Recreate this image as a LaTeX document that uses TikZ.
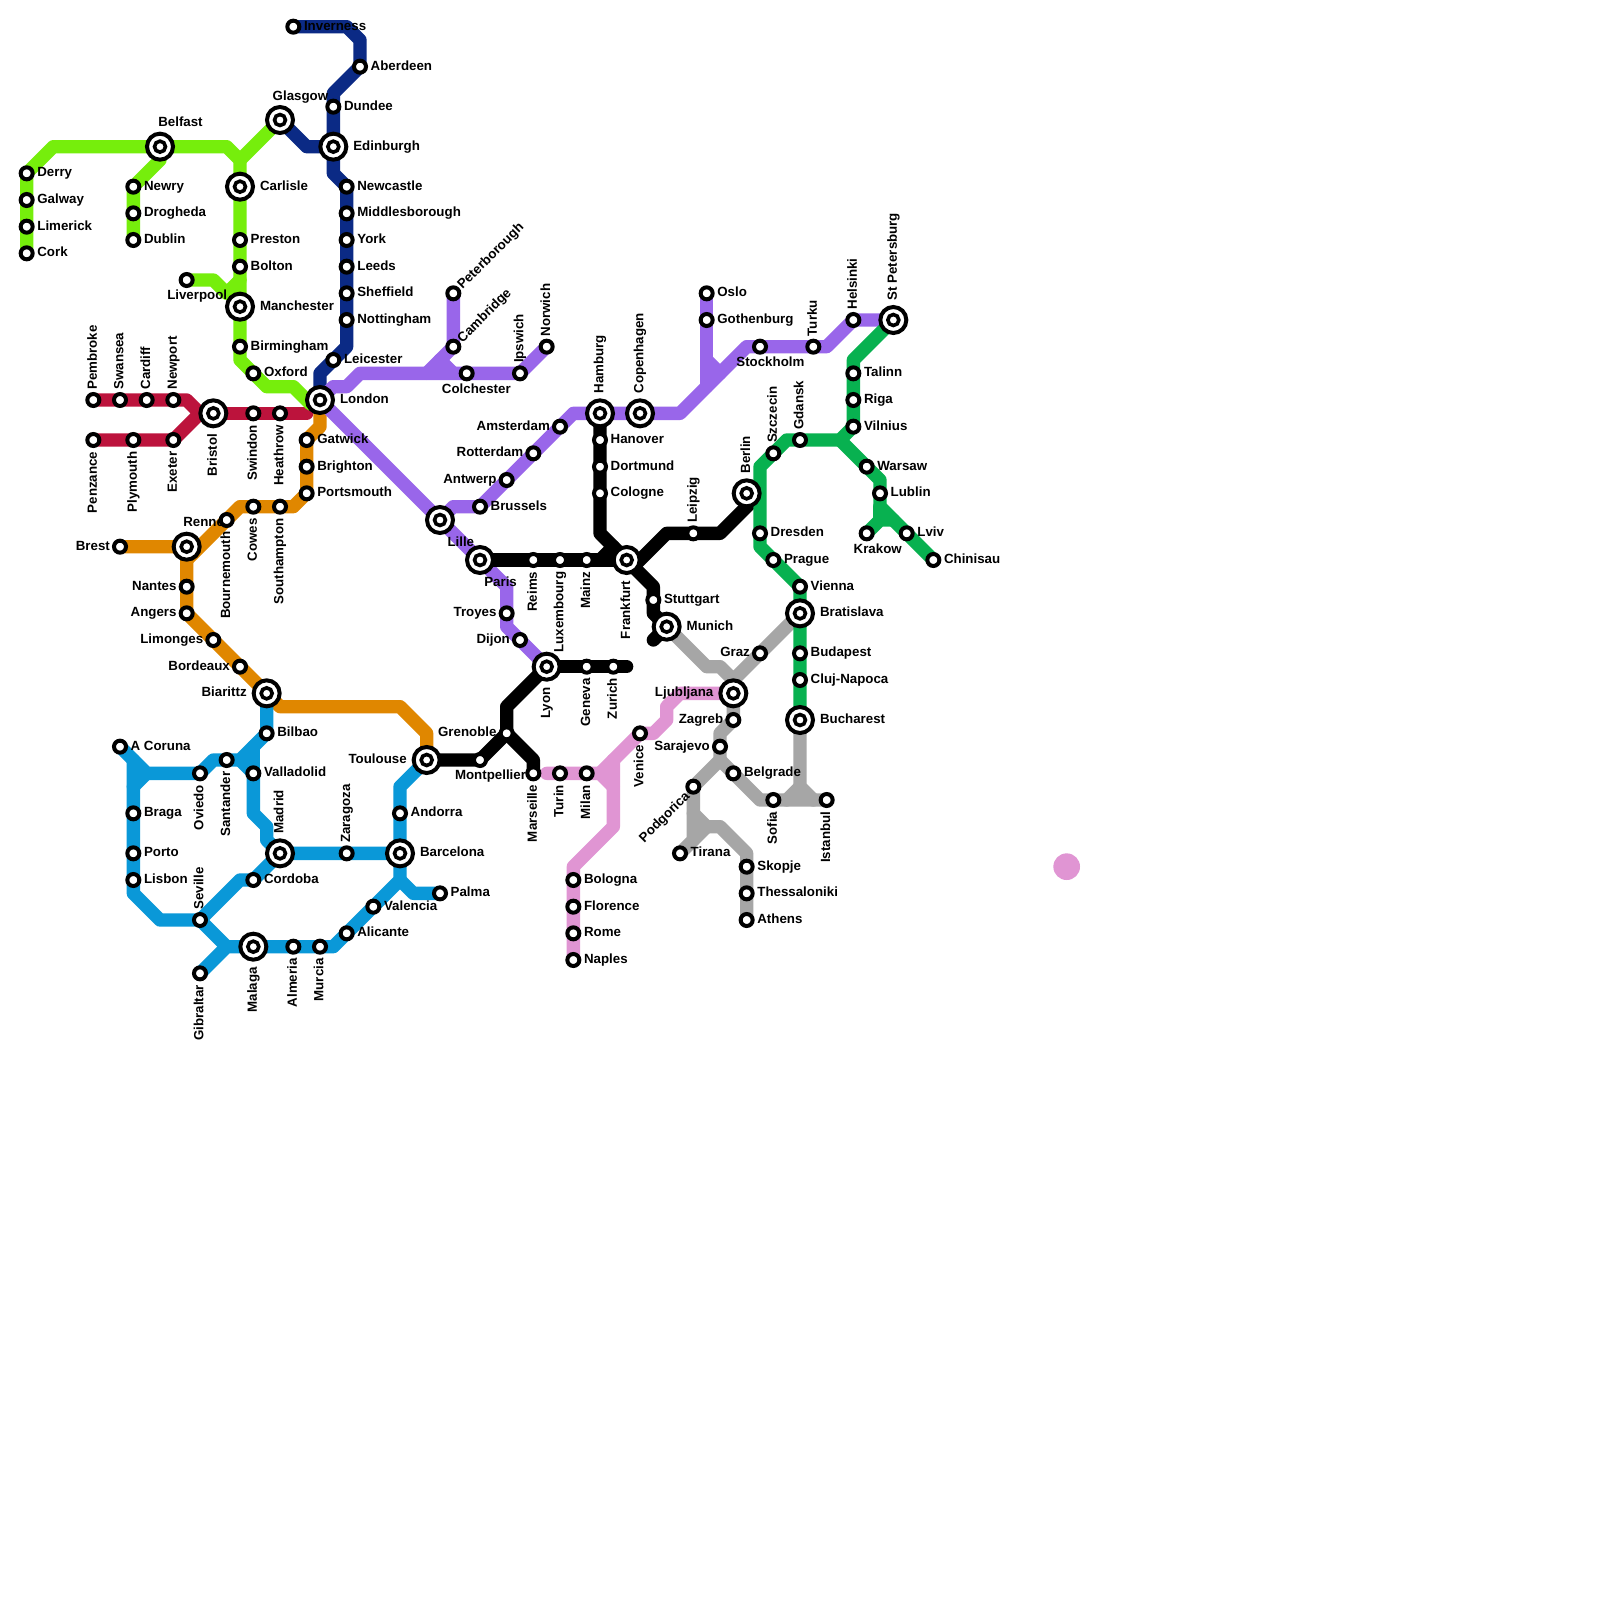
\documentclass[tikz,border=0pt]{standalone}
\usepackage{fontspec}
\setmainfont{Liberation Sans}
\pgfdeclarelayer{lines}
\pgfdeclarelayer{labels}
\pgfsetlayers{lines,labels,main}
\definecolor{cGreen}{HTML}{76EE0C}
\definecolor{cNavy}{HTML}{0B2A85}
\definecolor{cRed}{HTML}{BC133C}
\definecolor{cPurple}{HTML}{9966EA}
\definecolor{cOrange}{HTML}{E08700}
\definecolor{cBlue}{HTML}{0A98D8}
\definecolor{cPink}{HTML}{E095D3}
\definecolor{cGray}{HTML}{A6A6A6}
\definecolor{cEmerald}{HTML}{08B150}
\tikzset{
  metro/.style={line width=0.5cm,line cap=round,line join=round},
  stn/.style={circle,draw=black,fill=white,minimum size=0.45cm,line width=0.15cm,inner sep=0pt,outer sep=0pt},
  istn/.style={circle,draw=black,fill=white,minimum size=0.975cm,line width=0.15cm,inner sep=0pt,outer sep=0pt,
    path picture={\draw[black,line width=0.135cm] (path picture bounding box.center) circle (0.206cm);}},
  lab/.style={font=\bfseries\fontsize{14.2}{14.2}\selectfont,inner sep=0pt,outer sep=0pt,text height=10.2pt,text depth=0pt},
  lO/.style 2 args={lab,anchor=west,xshift={(#1)*0.0375cm},yshift={(0-(#2))*0.0375cm}},
  lE/.style={lO={10.7}{-1.3}},
  lEE/.style={lO={20}{-1.3}},
  lW/.style={lab,anchor=east,xshift=-0.38cm,yshift=0.05cm},
  lWW/.style={lab,anchor=east,xshift=-0.75cm,yshift=0.05cm},
  lN/.style={lab,xshift=-0.05cm,yshift=0.39cm,rotate=90,anchor=west},
  lNN/.style={lab,xshift=-0.05cm,yshift=0.74cm,rotate=90,anchor=west},
  lS/.style={lab,xshift=-0.05cm,yshift=-0.44cm,rotate=90,anchor=east},
  lSS/.style={lab,xshift=-0.05cm,yshift=-0.775cm,rotate=90,anchor=east},
  lNE/.style={lab,xshift=0.225cm,yshift=0.26cm,rotate=45,anchor=west},
  lSW/.style={lab,xshift=-0.24cm,yshift=-0.26cm,rotate=45,anchor=east},
}
\newcommand{\st}[5]{\node[stn] (#1) at (#2,#3) {};\begin{pgfonlayer}{labels}\node[#5] (#1-l) at (#2,#3) {#4};\end{pgfonlayer}}
\newcommand{\ist}[5]{\node[istn] (#1) at (#2,#3) {};\begin{pgfonlayer}{labels}\node[#5] (#1-l) at (#2,#3) {#4};\end{pgfonlayer}}
\begin{document}
\begin{tikzpicture}[x=0.5cm,y=-0.5cm]
\useasboundingbox (0,0) rectangle (120,120);
\begin{pgfonlayer}{lines}
\fill[white] (0,0) rectangle (120,120);
\end{pgfonlayer}
% Ireland / UK
\st{derry}{2}{13}{Derry}{lE}
\st{galway}{2}{15}{Galway}{lE}
\st{limerick}{2}{17}{Limerick}{lE}
\st{cork}{2}{19}{Cork}{lE}
\ist{belfast}{12}{11}{Belfast}{{lO={-1.7}{-25}}}
\st{newry}{10}{14}{Newry}{lE}
\st{drogheda}{10}{16}{Drogheda}{lE}
\st{dublin}{10}{18}{Dublin}{lE}
\ist{carlisle}{18}{14}{Carlisle}{lEE}
\st{preston}{18}{18}{Preston}{lE}
\st{bolton}{18}{20}{Bolton}{lE}
\ist{manchester}{18}{23}{Manchester}{lEE}
\st{birmingham}{18}{26}{Birmingham}{lE}
\st{oxford}{19}{28}{Oxford}{lE}
\st{liverpool}{14}{21}{Liverpool}{{lO={-19.4}{15}}}
\ist{glasgow}{21}{9}{Glasgow}{{lO={-7.3}{-24.7}}}
\ist{edinburgh}{25}{11}{Edinburgh}{lEE}
\st{dundee}{25}{8}{Dundee}{lE}
\st{aberdeen}{27}{5}{Aberdeen}{lE}
\st{inverness}{22}{2}{Inverness}{lE}
\st{newcastle}{26}{14}{Newcastle}{lE}
\st{middlesborough}{26}{16}{Middlesborough}{lE}
\st{york}{26}{18}{York}{lE}
\st{leeds}{26}{20}{Leeds}{lE}
\st{sheffield}{26}{22}{Sheffield}{lE}
\st{nottingham}{26}{24}{Nottingham}{lE}
\st{leicester}{25}{27}{Leicester}{lE}
\ist{london}{24}{30}{London}{lEE}
\st{pembroke}{7}{30}{Pembroke}{lN}
\st{swansea}{9}{30}{Swansea}{lN}
\st{cardiff}{11}{30}{Cardiff}{lN}
\st{newport}{13}{30}{Newport}{lN}
\ist{bristol}{16}{31}{Bristol}{lSS}
\st{swindon}{19}{31}{Swindon}{lS}
\st{heathrow}{21}{31}{Heathrow}{lS}
\st{penzance}{7}{33}{Penzance}{lS}
\st{plymouth}{10}{33}{Plymouth}{lS}
\st{exeter}{13}{33}{Exeter}{lS}
\st{gatwick}{23}{33}{Gatwick}{lE}
\st{brighton}{23}{35}{Brighton}{lE}
\st{portsmouth}{23}{37}{Portsmouth}{lE}
\st{peterborough}{34}{22}{Peterborough}{lNE}
\st{cambridge}{34}{26}{Cambridge}{lNE}
\st{colchester}{35}{28}{Colchester}{{lO={-24.7}{15}}}
\st{ipswich}{39}{28}{Ipswich}{lN}
\st{norwich}{41}{26}{Norwich}{lN}
% West / central Europe
\ist{hamburg}{45}{31}{Hamburg}{lNN}
\ist{copenhagen}{48}{31}{Copenhagen}{lNN}
\st{amsterdam}{42}{32}{Amsterdam}{lW}
\st{rotterdam}{40}{34}{Rotterdam}{lW}
\st{antwerp}{38}{36}{Antwerp}{lW}
\st{brussels}{36}{38}{Brussels}{lE}
\ist{lille}{33}{39}{Lille}{{lO={7.5}{21.7}}}
\ist{paris}{36}{42}{Paris}{{lO={4.3}{21.7}}}
\st{reims}{40}{42}{Reims}{lS}
\st{luxembourg}{42}{42}{Luxembourg}{lS}
\st{mainz}{44}{42}{Mainz}{lS}
\ist{frankfurt}{47}{42}{Frankfurt}{lSS}
\st{hanover}{45}{33}{Hanover}{lE}
\st{dortmund}{45}{35}{Dortmund}{lE}
\st{cologne}{45}{37}{Cologne}{lE}
\st{leipzig}{52}{40}{Leipzig}{lN}
\ist{berlin}{56}{37}{Berlin}{lNN}
\st{stuttgart}{49}{45}{Stuttgart}{lE}
\ist{munich}{50}{47}{Munich}{lEE}
\st{troyes}{38}{46}{Troyes}{lW}
\st{dijon}{39}{48}{Dijon}{lW}
\ist{lyon}{41}{50}{Lyon}{lSS}
\st{geneva}{44}{50}{Geneva}{lS}
\st{zurich}{46}{50}{Zurich}{lS}
% North / East
\st{oslo}{53}{22}{Oslo}{lE}
\st{gothenburg}{53}{24}{Gothenburg}{lE}
\st{stockholm}{57}{26}{Stockholm}{{lO={-23.6}{15}}}
\st{turku}{61}{26}{Turku}{lN}
\st{helsinki}{64}{24}{Helsinki}{lN}
\ist{stpetersburg}{67}{24}{St Petersburg}{lNN}
\st{talinn}{64}{28}{Talinn}{lE}
\st{riga}{64}{30}{Riga}{lE}
\st{vilnius}{64}{32}{Vilnius}{lE}
\st{gdansk}{60}{33}{Gdansk}{lN}
\st{szczecin}{58}{34}{Szczecin}{lN}
\st{warsaw}{65}{35}{Warsaw}{lE}
\st{lublin}{66}{37}{Lublin}{lE}
\st{krakow}{65}{40}{Krakow}{{lO={-13}{15}}}
\st{lviv}{68}{40}{Lviv}{lE}
\st{chinisau}{70}{42}{Chinisau}{lE}
\st{dresden}{57}{40}{Dresden}{lE}
\st{prague}{58}{42}{Prague}{lE}
\st{vienna}{60}{44}{Vienna}{lE}
\ist{bratislava}{60}{46}{Bratislava}{lEE}
\st{budapest}{60}{49}{Budapest}{lE}
\st{clujnapoca}{60}{51}{Cluj-Napoca}{lE}
\ist{bucharest}{60}{54}{Bucharest}{lEE}
\st{graz}{57}{49}{Graz}{lW}
\ist{ljubljana}{55}{52}{Ljubljana}{lWW}
\st{zagreb}{55}{54}{Zagreb}{lW}
\st{sarajevo}{54}{56}{Sarajevo}{lW}
\st{podgorica}{52}{59}{Podgorica}{lSW}
\st{belgrade}{55}{58}{Belgrade}{lE}
\st{sofia}{58}{60}{Sofia}{lS}
\st{istanbul}{62}{60}{Istanbul}{lS}
\st{tirana}{51}{64}{Tirana}{lE}
\st{skopje}{56}{65}{Skopje}{lE}
\st{thessaloniki}{56}{67}{Thessaloniki}{lE}
\st{athens}{56}{69}{Athens}{lE}
% Italy
\st{venice}{48}{55}{Venice}{lS}
\st{turin}{42}{58}{Turin}{lS}
\st{milan}{44}{58}{Milan}{lS}
\st{bologna}{43}{66}{Bologna}{lE}
\st{florence}{43}{68}{Florence}{lE}
\st{rome}{43}{70}{Rome}{lE}
\st{naples}{43}{72}{Naples}{lE}
% France / Iberia
\st{brest}{9}{41}{Brest}{lW}
\ist{rennes}{14}{41}{Rennes}{{lO={-3.4}{-24.9}}}
\st{nantes}{14}{44}{Nantes}{lW}
\st{angers}{14}{46}{Angers}{lW}
\st{limonges}{16}{48}{Limonges}{lW}
\st{bordeaux}{18}{50}{Bordeaux}{lW}
\ist{biarittz}{20}{52}{Biarittz}{lWW}
\st{bournemouth}{17}{39}{Bournemouth}{lS}
\st{cowes}{19}{38}{Cowes}{lS}
\st{southampton}{21}{38}{Southampton}{lS}
\ist{toulouse}{32}{57}{Toulouse}{lWW}
\st{montpellier}{36}{57}{Montpellier}{{lO={-25}{14.6}}}
\st{grenoble}{38}{55}{Grenoble}{lW}
\st{marseille}{40}{58}{Marseille}{lS}
\st{acoruna}{9}{56}{A Coruna}{lE}
\st{braga}{10}{61}{Braga}{lE}
\st{porto}{10}{64}{Porto}{lE}
\st{lisbon}{10}{66}{Lisbon}{lE}
\st{oviedo}{15}{58}{Oviedo}{lS}
\st{santander}{17}{57}{Santander}{lS}
\st{bilbao}{20}{55}{Bilbao}{lE}
\st{valladolid}{19}{58}{Valladolid}{lE}
\ist{madrid}{21}{64}{Madrid}{lNN}
\st{zaragoza}{26}{64}{Zaragoza}{lN}
\ist{barcelona}{30}{64}{Barcelona}{lEE}
\st{andorra}{30}{61}{Andorra}{lE}
\st{cordoba}{19}{66}{Cordoba}{lE}
\st{seville}{15}{69}{Seville}{lN}
\ist{malaga}{19}{71}{Malaga}{lSS}
\st{almeria}{22}{71}{Almeria}{lS}
\st{murcia}{24}{71}{Murcia}{lS}
\st{alicante}{26}{70}{Alicante}{lE}
\st{valencia}{28}{68}{Valencia}{lE}
\st{palma}{33}{67}{Palma}{lE}
\st{gibraltar}{15}{73}{Gibraltar}{lS}
\node[circle,fill=cPink,minimum size=1cm,inner sep=0pt] (legenddot) at (80,65) {};
\begin{pgfonlayer}{lines}
% crimson
\draw[metro,cRed] (pembroke.center)--(14,30)--(15,31)--(exeter.center)--(penzance.center);
\draw[metro,cRed] (15,31)--(bristol.center)--(23,31);
% navy
\draw[metro,cNavy] (inverness.center)--(26,2)--(27,3)--(aberdeen.center)--(25,7)--(edinburgh.center)--(25,13)--(newcastle.center)--(26,26)--(leicester.center)--(24,28)--(london.center);
\draw[metro,cNavy] (glasgow.center)--(23,11)--(edinburgh.center);
% green
\draw[metro,cGreen] (cork.center)--(derry.center)--(4,11)--(17,11)--(18,12)--(18,27)--(20,29)--(22,29)--(23.3,30.3);
\draw[metro,cGreen] (18,12)--(glasgow.center);
\draw[metro,cGreen] (belfast.center)--(12,12)--(newry.center)--(dublin.center);
\draw[metro,cGreen] (liverpool.center)--(16,21)--(17,22)--(18,21);
% orange
\draw[metro,cOrange] (brest.center)--(rennes.center)--(angers.center)--(biarittz.center)--(21,53)--(30,53)--(32,55)--(toulouse.center);
\draw[metro,cOrange] (14,42)--(18,38)--(22,38)--(23,37)--(23,33)--(24,32)--(london.center);
% blue
\draw[metro,cBlue] (acoruna.center)--(11,58)--(oviedo.center)--(16,57)--(18,57)--(bilbao.center)--(biarittz.center);
\draw[metro,cBlue] (10,57)--(10,67)--(12,69)--(seville.center)--(18,66)--(cordoba.center)--(madrid.center);
\draw[metro,cBlue] (10,59)--(11,58);
\draw[metro,cBlue] (18,57)--(valladolid.center)--(19,61)--(20,62)--(20,63)--(madrid.center)--(barcelona.center);
\draw[metro,cBlue] (19,56)--(valladolid.center);
\draw[metro,cBlue] (toulouse.center)--(30,59)--(barcelona.center)--(30,66)--(alicante.center)--(25,71)--(17,71)--(gibraltar.center);
\draw[metro,cBlue] (seville.center)--(17,71);
\draw[metro,cBlue] (30,66)--(31,67)--(palma.center);
% purple
\draw[metro,cPurple] (london.center)--(25,29)--(26,29)--(27,28)--(ipswich.center)--(norwich.center);
\draw[metro,cPurple] (peterborough.center)--(cambridge.center)--(32,28);
\draw[metro,cPurple] (33,27)--(34,28);
\draw[metro,cPurple] (london.center)--(paris.center)--(38,44)--(38,47)--(lyon.center);
\draw[metro,cPurple] (lille.center)--(34,38)--(brussels.center)--(43,31)--(51,31)--(56,26)--(62,26)--(helsinki.center)--(stpetersburg.center);
\draw[metro,cPurple] (oslo.center)--(53,29);
\draw[metro,cPurple] (53,27)--(54,28);
% black
\draw[metro,black] (hamburg.center)--(45,40)--(frankfurt.center)--(49,44)--(49,46)--(munich.center)--(49,48);
\draw[metro,black] (paris.center)--(frankfurt.center);
\draw[metro,black] (45,42)--(46,41);
\draw[metro,black] (47.6,42.4)--(50,40)--(54,40)--(56.4,37.6);
\draw[metro,black] (lyon.center)--(47,50);
\draw[metro,black] (lyon.center)--(38,53)--(grenoble.center)--(40,57)--(marseille.center);
\draw[metro,black] (toulouse.center)--(montpellier.center)--(grenoble.center);
% pink
\draw[metro,cPink] (41,58)--(45,58)--(46,59);
\draw[metro,cPink] (45,58)--(venice.center)--(49,55)--(50,54)--(50,53)--(51,52)--(ljubljana.center);
\draw[metro,cPink] (46,57)--(46,62)--(43,65)--(naples.center);
% gray
\draw[metro,cGray] (munich.center)--(53,50)--(54,50)--(55,51)--(bratislava.center);
\draw[metro,cGray] (55,51)--(zagreb.center)--(54,55)--(54,57)--(podgorica.center)--(52,63)--(tirana.center);
\draw[metro,cGray] (54,57)--(57,60)--(istanbul.center);
\draw[metro,cGray] (bucharest.center)--(60,59)--(61,60);
\draw[metro,cGray] (60,59)--(59,60);
\draw[metro,cGray] (52,61)--(53,62)--(54,62)--(56,64)--(athens.center);
\draw[metro,cGray] (52,63)--(53,62);
% emerald
\draw[metro,cEmerald] (stpetersburg.center)--(64,27)--(vilnius.center)--(63,33)--(59,33)--(57,35)--(57,41)--(vienna.center)--(bucharest.center);
\draw[metro,cEmerald] (63,33)--(66,36)--(66,38)--(chinisau.center);
\draw[metro,cEmerald] (66,38)--(66,39);
\draw[metro,cEmerald] (krakow.center)--(66,39)--(67,39);
\end{pgfonlayer}
\end{tikzpicture}
\end{document}
